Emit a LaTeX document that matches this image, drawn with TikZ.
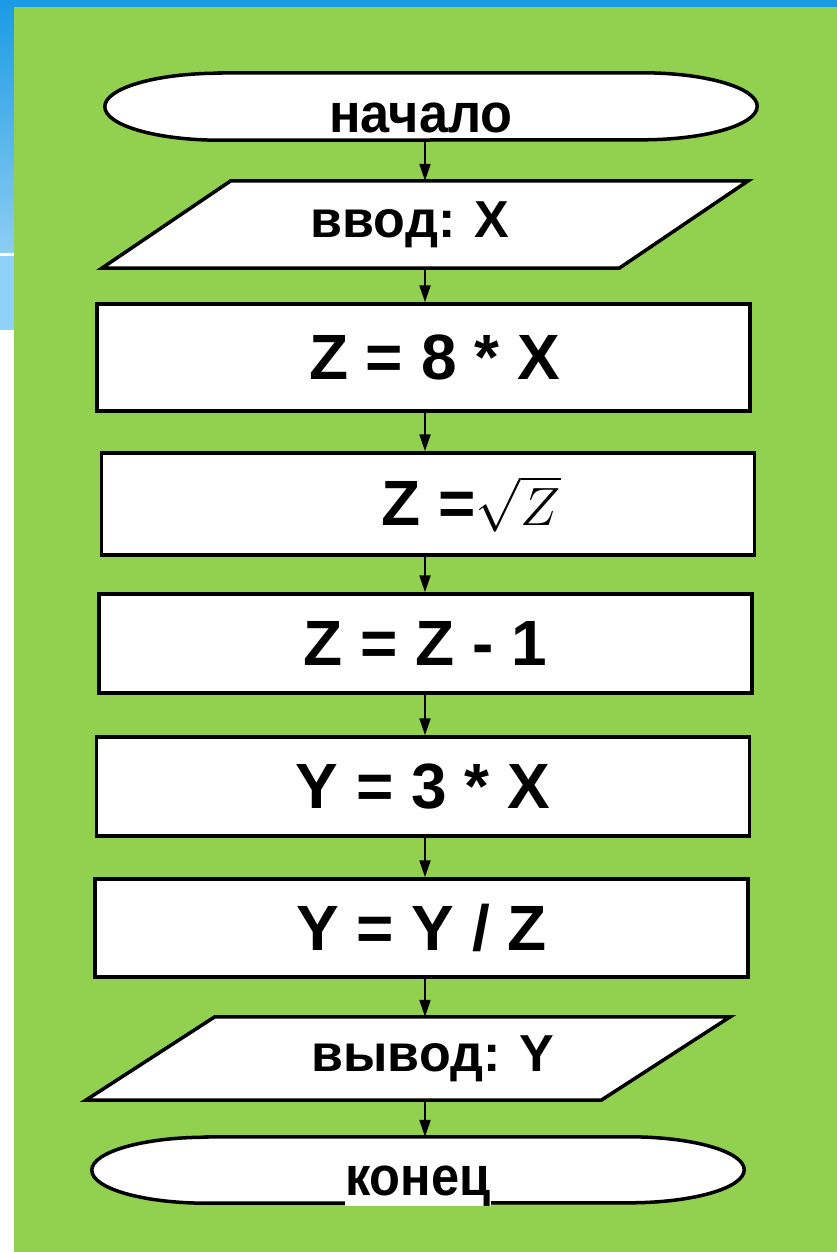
\documentclass[tikz,border=0pt]{standalone}
\usepackage{fontspec}
\setmainfont{Liberation Sans}
\usetikzlibrary{arrows.meta, positioning, calc, backgrounds}
\definecolor{slidegreen}{HTML}{92D050}
\definecolor{slideblue}{HTML}{1A9BE4}
\definecolor{slidesky}{HTML}{8FD1F8}

\begin{document}
\begin{tikzpicture}[
  x=1pt, y=-1pt,
  shapeline/.style={draw=black, line width=3.5pt, fill=white},
  holder/.style={rectangle, inner sep=0pt, minimum width=#1},
  procbox/.style={
    rectangle, shapeline, inner sep=0pt, minimum width=653pt,
    font=\fontsize{64}{64}\selectfont\bfseries
  },
  termtext/.style={font=\fontsize{55}{55}\selectfont\bfseries},
  iotext/.style={font=\fontsize{52}{52}\selectfont\bfseries},
  arr/.style={line width=2pt, -{Triangle[length=17pt,width=11pt]}}
]
  \useasboundingbox (0,0) rectangle (837,1252);

  % Slide background
  \begin{scope}[on background layer]
    \fill[white] (0,0) rectangle (837,1252);
    \fill[slideblue] (0,0) rectangle (837,7);
    \shade[top color=slideblue, bottom color=slideblue!50!white] (0,0) rectangle (14,252);
    \fill[slidesky] (0,256) rectangle (14,330);
    \fill[slidegreen] (14,7) rectangle (837,1252);
  \end{scope}

  \coordinate (axis) at (425,0);

  % Flowchart nodes
  \node[holder=652pt, minimum height=67pt, termtext, text height=60pt, text depth=7pt]
    (start) at (431,106.5) {\scalebox{0.95}[1]{начало}\hspace*{20pt}};
  \node[holder=646pt, minimum height=87pt, iotext]
    (inp) at (425,224.5) {ввод: X\hspace*{30pt}};
  \node[procbox, minimum height=107pt] (calc1) at (423.5,357.5) {\hspace*{22pt}Z = 8 * X};
  \node[procbox, minimum height=102pt] (calc2) at (428,504)
    {\hspace*{86pt}Z =\fontsize{20}{20}\selectfont\scalebox{2.6}{$\sqrt{Z}$}};
  \node[procbox, minimum height=99pt] (calc3) at (425.5,643.5) {Z = Z - 1};
  \node[procbox, minimum height=99pt] (calc4) at (423,786.5) {Y = 3 * X};
  \node[procbox, minimum height=98pt] (calc5) at (421.5,928) {Y = Y / Z};
  \node[holder=644pt, minimum height=83pt, iotext]
    (outp) at (408,1058.5) {\hspace*{50pt}вывод: Y};
  \node[holder=652pt, minimum height=66pt, termtext, text height=58pt, text depth=8pt]
    (finish) at (418,1170) {\fboxsep=0pt\colorbox{white}{\scalebox{0.92}[1]{конец}}};

  % Outlines of terminals and input/output
  \begin{scope}[on background layer]
    \draw[shapeline] ([xshift=115pt]start.north west) -- ([xshift=-115pt]start.north east)
      arc[start angle=90, end angle=-90, x radius=115pt, y radius=33.5pt]
      -- ([xshift=115pt]start.south west)
      arc[start angle=270, end angle=90, x radius=115pt, y radius=33.5pt] -- cycle;
    \draw[shapeline] ([xshift=129pt]inp.north west) -- (inp.north east)
      -- ([xshift=-129pt]inp.south east) -- (inp.south west) -- cycle;
    \draw[shapeline] ([xshift=129pt]outp.north west) -- (outp.north east)
      -- ([xshift=-129pt]outp.south east) -- (outp.south west) -- cycle;
    \draw[shapeline] ([xshift=115pt]finish.north west) -- ([xshift=-115pt]finish.north east)
      arc[start angle=90, end angle=-90, x radius=115pt, y radius=33pt]
      -- ([xshift=115pt]finish.south west)
      arc[start angle=270, end angle=90, x radius=115pt, y radius=33pt] -- cycle;
  \end{scope}

  % Connectors
  \draw[arr] (start.south -| axis) -- (inp.north -| axis);
  \draw[arr] (inp.south -| axis) -- (calc1.north -| axis);
  \draw[arr] (calc1.south -| axis) -- (calc2.north -| axis);
  \draw[arr] (calc2.south -| axis) -- (calc3.north -| axis);
  \draw[arr] (calc3.south -| axis) -- (calc4.north -| axis);
  \draw[arr] (calc4.south -| axis) -- (calc5.north -| axis);
  \draw[arr] (calc5.south -| axis) -- (outp.north -| axis);
  \draw[arr] (outp.south -| axis) -- (finish.north -| axis);
\end{tikzpicture}
\end{document}
